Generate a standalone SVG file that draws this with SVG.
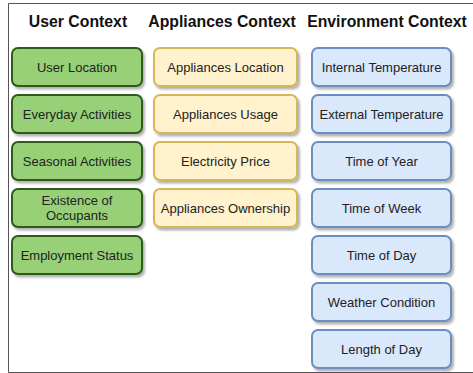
<svg xmlns="http://www.w3.org/2000/svg" width="473" height="373" viewBox="0 0 473 373">
<style>
.hd{font-family:"Liberation Sans",Arial,sans-serif;font-weight:bold;font-size:15.8px;fill:#111;text-anchor:middle}
.t{font-family:"Liberation Sans",Arial,sans-serif;font-size:13px;fill:#222;text-anchor:middle}
.g{fill:#97D077;stroke:#2D5A1B;stroke-width:2}
.y{fill:#FFF2CC;stroke:#D6B656;stroke-width:2}
.b{fill:#DAE8FC;stroke:#6C8EBF;stroke-width:2}
.n rect{filter:url(#sh)}
</style>
<defs>
<filter id="sh" x="-10%" y="-20%" width="130%" height="150%">
<feDropShadow dx="2" dy="2.5" stdDeviation="0.8" flood-color="#000" flood-opacity="0.3"/>
</filter>
</defs>
<rect width="473" height="373" fill="#fff"/>
<path d="M473,3.5 H8.5 V372.5 H473" fill="none" stroke="#555" stroke-width="1"/>
<text class="hd" x="78" y="27">User Context</text>
<text class="hd" x="222" y="27">Appliances Context</text>
<text class="hd" x="387" y="27">Environment Context</text>
<g id="connectors"></g>
<g id="user-location" class="n"><rect class="g" x="12" y="48" width="130" height="38" rx="6"/><text class="t" x="77" y="71.5">User Location</text></g>
<g id="everyday-activities" class="n"><rect class="g" x="12" y="95" width="130" height="38" rx="6"/><text class="t" x="77" y="118.5">Everyday Activities</text></g>
<g id="seasonal-activities" class="n"><rect class="g" x="12" y="142" width="130" height="38" rx="6"/><text class="t" x="77" y="165.5">Seasonal Activities</text></g>
<g id="existence-of-occupants" class="n"><rect class="g" x="12" y="189" width="130" height="38" rx="6"/><text class="t" x="77" y="205">Existence of</text><text class="t" x="77" y="220">Occupants</text></g>
<g id="employment-status" class="n"><rect class="g" x="12" y="236" width="130" height="38" rx="6"/><text class="t" x="77" y="259.5">Employment Status</text></g>
<g id="appliances-location" class="n"><rect class="y" x="154" y="48" width="143" height="38" rx="6"/><text class="t" x="225.5" y="71.5">Appliances Location</text></g>
<g id="appliances-usage" class="n"><rect class="y" x="154" y="95" width="143" height="38" rx="6"/><text class="t" x="225.5" y="118.5">Appliances Usage</text></g>
<g id="electricity-price" class="n"><rect class="y" x="154" y="142" width="143" height="38" rx="6"/><text class="t" x="225.5" y="165.5">Electricity Price</text></g>
<g id="appliances-ownership" class="n"><rect class="y" x="154" y="189" width="143" height="38" rx="6"/><text class="t" x="225.5" y="212.5">Appliances Ownership</text></g>
<g id="internal-temperature" class="n"><rect class="b" x="312" y="48" width="139" height="38" rx="6"/><text class="t" x="381.5" y="71.5">Internal Temperature</text></g>
<g id="external-temperature" class="n"><rect class="b" x="312" y="95" width="139" height="38" rx="6"/><text class="t" x="381.5" y="118.5">External Temperature</text></g>
<g id="time-of-year" class="n"><rect class="b" x="312" y="142" width="139" height="38" rx="6"/><text class="t" x="381.5" y="165.5">Time of Year</text></g>
<g id="time-of-week" class="n"><rect class="b" x="312" y="189" width="139" height="38" rx="6"/><text class="t" x="381.5" y="212.5">Time of Week</text></g>
<g id="time-of-day" class="n"><rect class="b" x="312" y="236" width="139" height="38" rx="6"/><text class="t" x="381.5" y="259.5">Time of Day</text></g>
<g id="weather-condition" class="n"><rect class="b" x="312" y="283" width="139" height="38" rx="6"/><text class="t" x="381.5" y="306.5">Weather Condition</text></g>
<g id="length-of-day" class="n"><rect class="b" x="312" y="330" width="139" height="38" rx="6"/><text class="t" x="381.5" y="353.5">Length of Day</text></g>
</svg>
